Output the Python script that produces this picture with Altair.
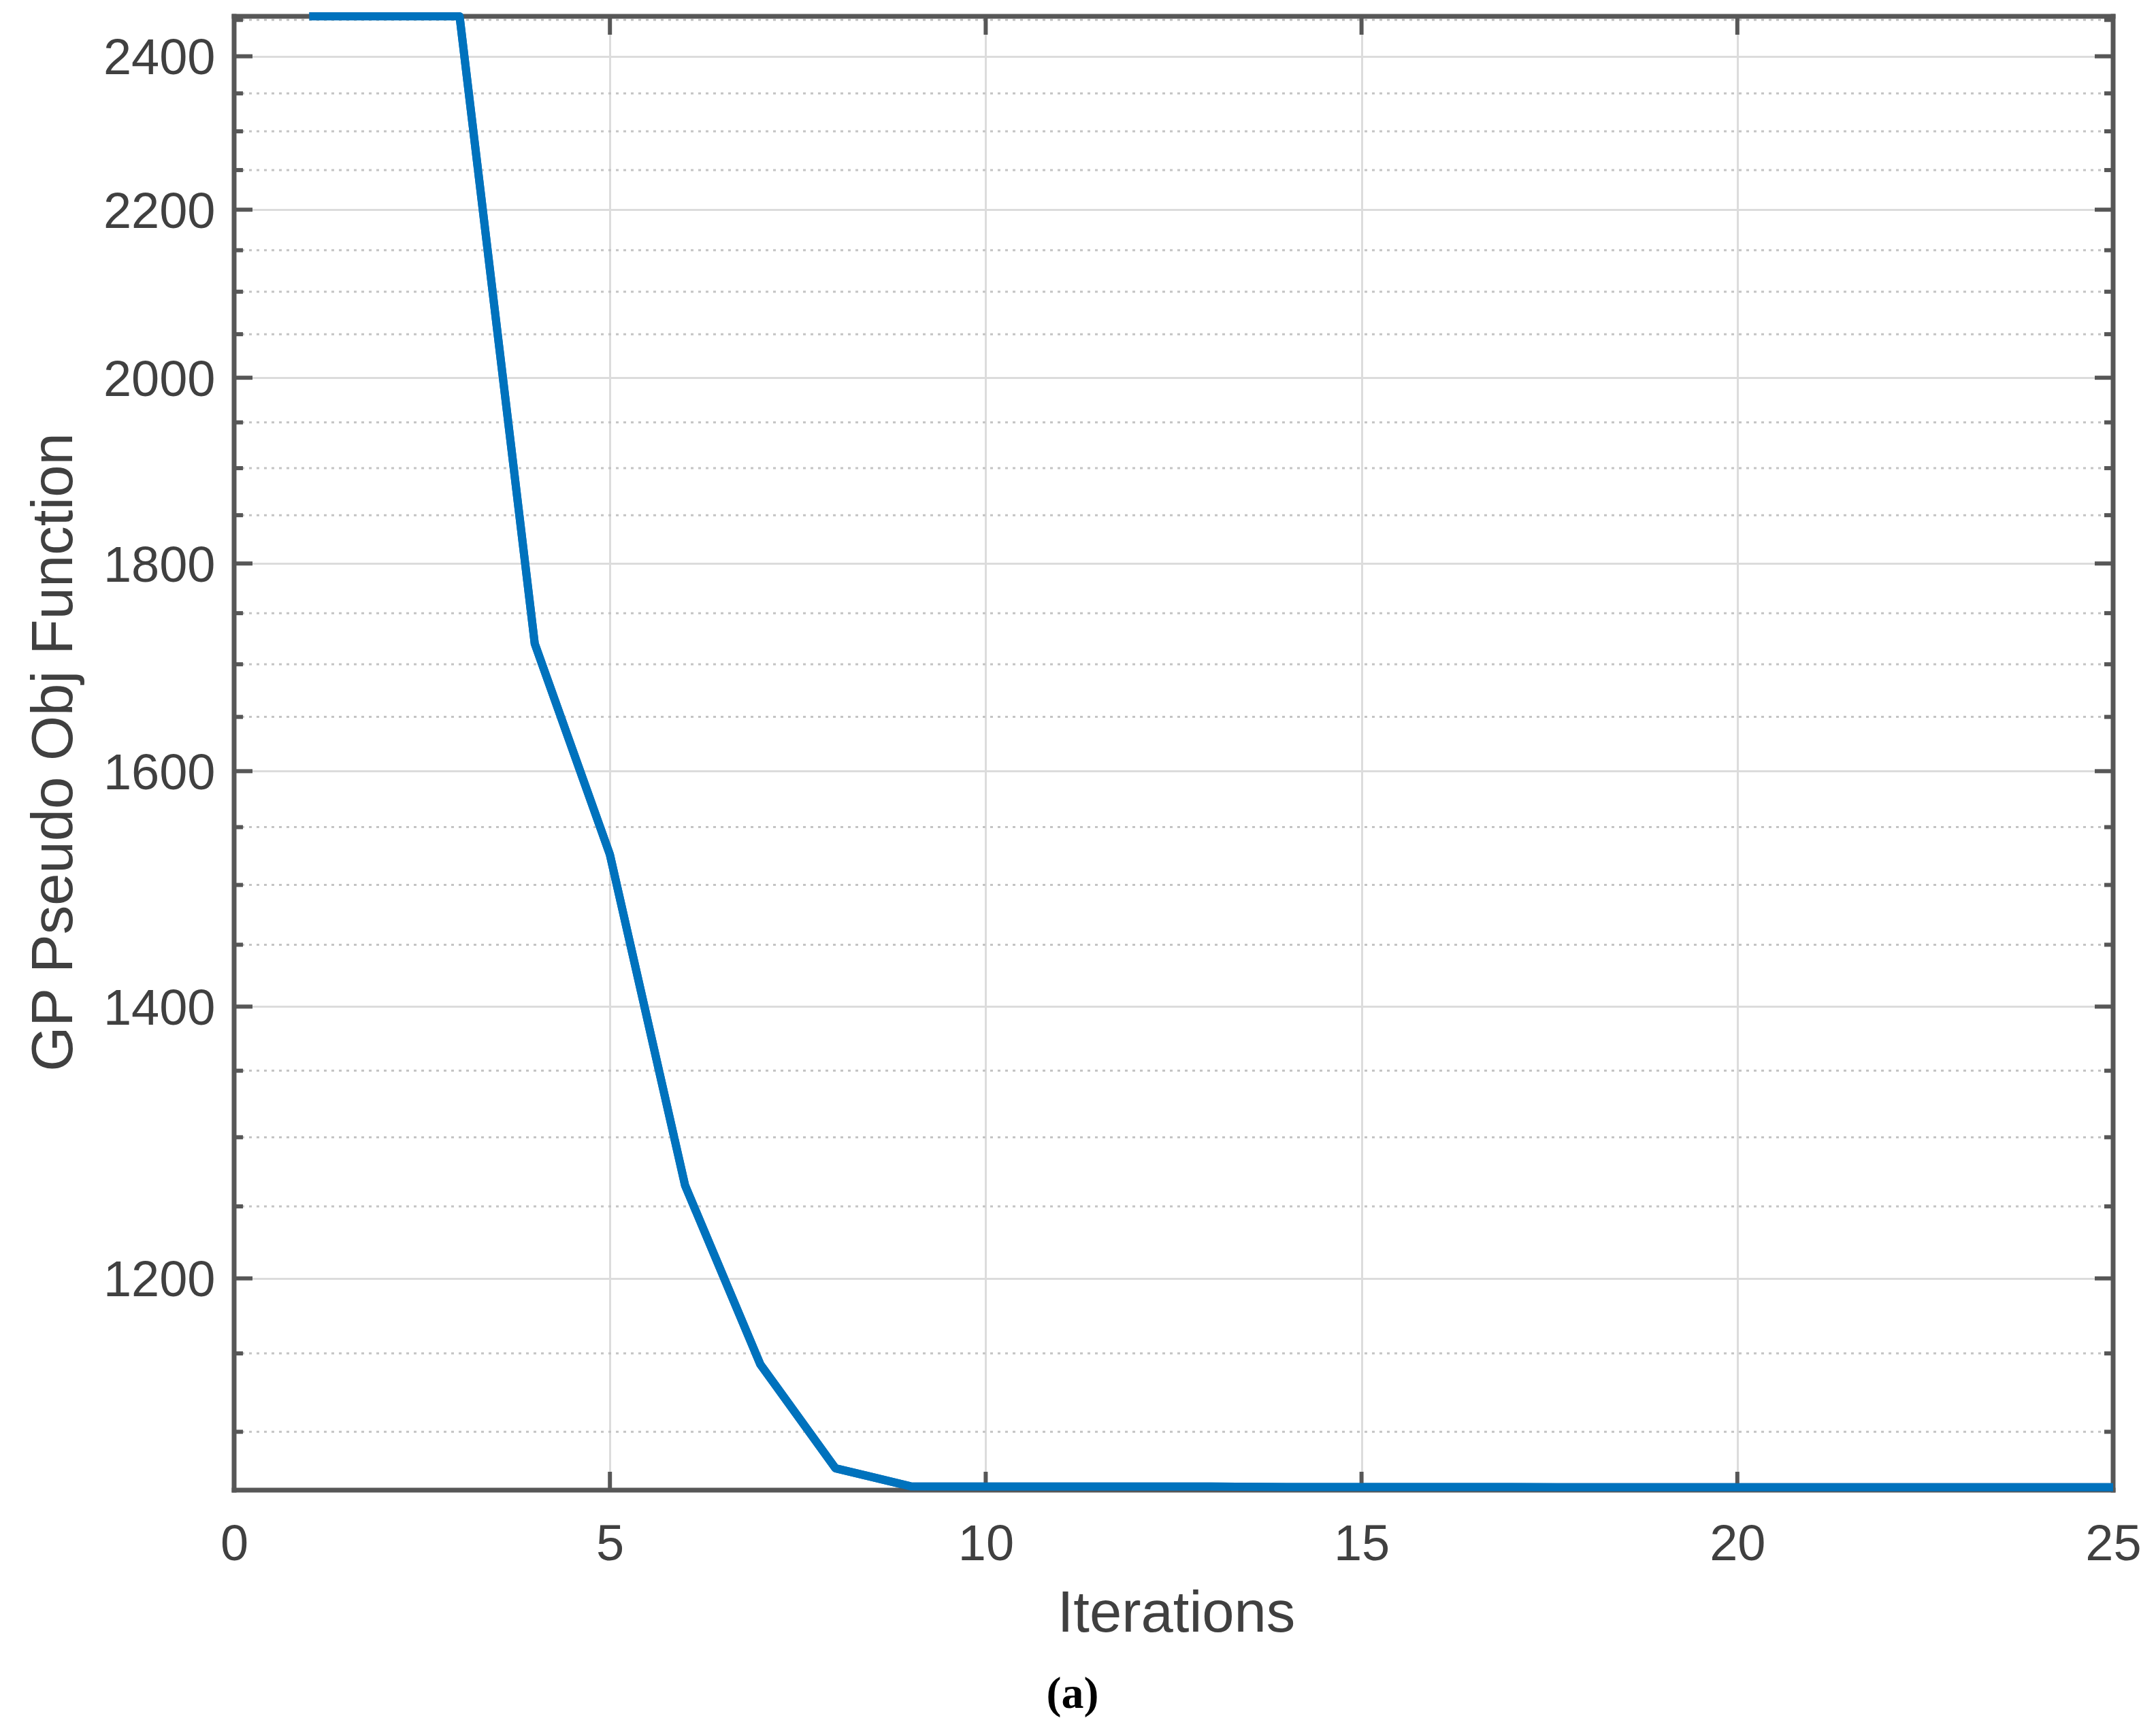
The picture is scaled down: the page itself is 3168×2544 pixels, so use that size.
import altair as alt
import pandas as pd

# ---- data ----
iterations = list(range(1, 26))
# values at iterations 1-3 lie above the top of the y range (clipped at the top edge)
objective = [2460, 2460, 2460, 1720, 1526, 1265, 1143, 1077.5, 1066.5,
             1066.4, 1066.4, 1066.4, 1066.4, 1066.1, 1066.1, 1066.1, 1066.1,
             1065.9, 1065.9, 1065.9, 1065.9, 1065.9, 1065.9, 1065.9, 1065.9]

x_major = [0, 5, 10, 15, 20, 25]
y_major = [1200, 1400, 1600, 1800, 2000, 2200, 2400]
y_minor = [1100, 1150, 1250, 1300, 1350, 1450, 1500, 1550, 1650, 1700, 1750,
           1850, 1900, 1950, 2050, 2100, 2150, 2250, 2300, 2350, 2450]
x_domain = [0, 25]
y_domain = [1064.2, 2455]
caption = ["(a)"]

W, H = 2761, 2166
FONT = "Liberation Sans"
TXT = "#404040"
AX = "#575757"

xs = alt.Scale(type="linear", domain=x_domain, nice=False, zero=False)
ys = alt.Scale(type="log", domain=y_domain, nice=False, zero=False, clamp=True)

line_df = pd.DataFrame({"iter": iterations, "obj": objective})
ymaj_df = pd.DataFrame({"obj": y_major})
ymin_df = pd.DataFrame({"obj": y_minor})
xmaj_df = pd.DataFrame({"iter": x_major})
xedge_df = pd.DataFrame({"iter": x_domain})
yedge_df = pd.DataFrame({"obj": y_domain})
cap_df = pd.DataFrame({"caption": caption})

x_axis = alt.Axis(values=x_major, title="Iterations", grid=True, gridColor="#dcdcdc",
                  gridWidth=3, ticks=False, tickSize=0, domain=False,
                  labelFont=FONT, labelFontSize=74, labelColor=TXT, labelPadding=44,
                  labelFlush=False, labelOverlap=False,
                  titleFont=FONT, titleFontSize=85, titleFontWeight="normal",
                  titleColor=TXT, titleX=1384, titleY=207, titleBaseline="alphabetic",
                  titleAlign="center")
y_axis = alt.Axis(values=y_major, format="d", title="GP Pseudo Obj Function", grid=True,
                  gridColor="#dcdcdc", gridWidth=3, ticks=False, tickSize=0, domain=False,
                  labelFont=FONT, labelFontSize=74, labelColor=TXT, labelPadding=28,
                  labelOffset=4, labelOverlap=False,
                  titleFont=FONT, titleFontSize=85, titleFontWeight="normal",
                  titleColor=TXT, titleAngle=270, titleX=-239, titleY=1081,
                  titleBaseline="alphabetic", titleAlign="center")

X = alt.X("iter:Q", scale=xs, axis=x_axis)
Y = alt.Y("obj:Q", scale=ys, axis=y_axis)

minor_grid = alt.Chart(ymin_df).mark_rule(color="#c4c4c4", strokeWidth=3, strokeDash=[4, 7]).encode(
    y=Y, x=alt.value(0), x2=alt.value(W))

border_h = alt.Chart(yedge_df).mark_rule(color=AX, strokeWidth=7).encode(
    y=Y, x=alt.value(-3.5), x2=alt.value(W + 3.5))
border_v = alt.Chart(xedge_df).mark_rule(color=AX, strokeWidth=7).encode(
    x=X, y=alt.value(-3.5), y2=alt.value(H + 3.5))

def yticks(df, length):
    left = alt.Chart(df).mark_rule(color=AX, strokeWidth=6).encode(
        y=Y, x=alt.value(0), x2=alt.value(length))
    right = alt.Chart(df).mark_rule(color=AX, strokeWidth=6).encode(
        y=Y, x=alt.value(W - length), x2=alt.value(W))
    return [left, right]

xt_bottom = alt.Chart(xmaj_df).mark_rule(color=AX, strokeWidth=6).encode(
    x=X, y=alt.value(H - 27), y2=alt.value(H))
xt_top = alt.Chart(xmaj_df).mark_rule(color=AX, strokeWidth=6).encode(
    x=X, y=alt.value(0), y2=alt.value(27))

line = alt.Chart(line_df).mark_line(color="#0072BD", strokeWidth=12, strokeJoin="round",
                                    clip=False).encode(x=X, y=Y)

cap = alt.Chart(cap_df).mark_text(font="Liberation Serif", fontSize=66, fontWeight="bold",
                                  color="black", align="center", baseline="alphabetic").encode(
    text="caption:N", x=alt.value(1232), y=alt.value(2486))

chart = alt.layer(
    line, minor_grid, border_h, border_v,
    *yticks(ymaj_df, 27), *yticks(ymin_df, 13),
    xt_bottom, xt_top,
    line, cap,
).properties(
    width=W, height=H,
    autosize=alt.AutoSizeParams(type="none"),
    padding={"left": 336, "top": 16, "right": 55, "bottom": 340},
).configure_view(stroke=None).configure(background="white")

chart.save("out.html", embed_options={"renderer": "svg", "actions": False})
